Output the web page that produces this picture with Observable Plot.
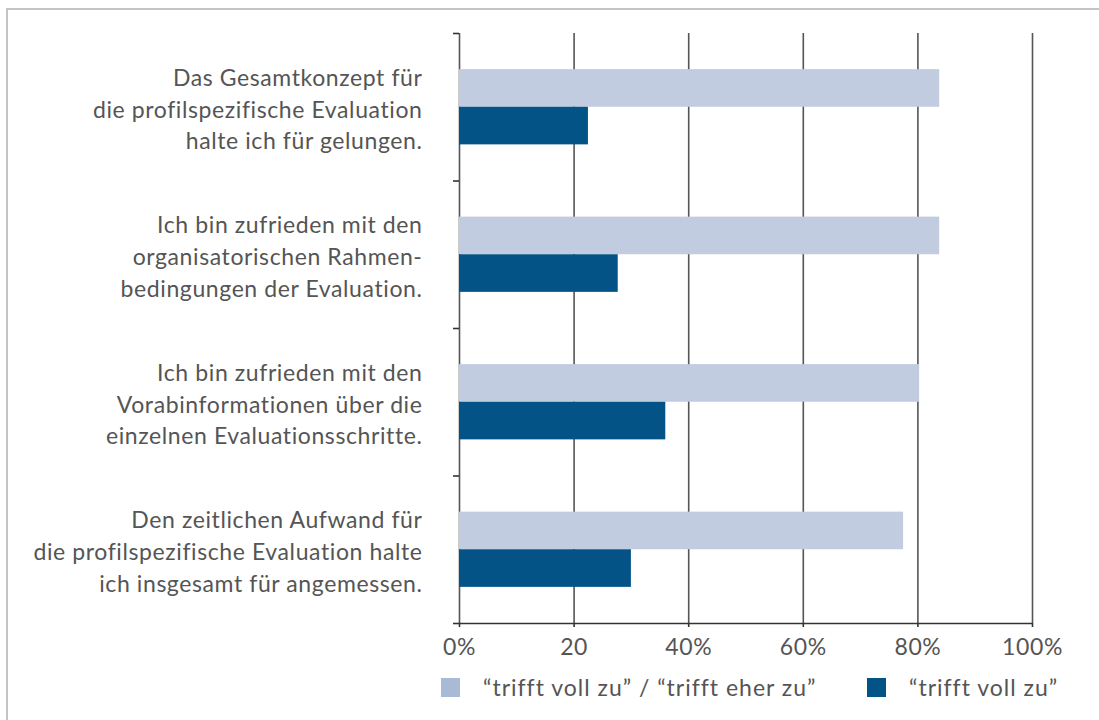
<!DOCTYPE html>
<html>
<head>
<meta charset="utf-8">
<script src="https://cdn.jsdelivr.net/npm/d3@7"></script>
<script src="https://cdn.jsdelivr.net/npm/@observablehq/plot@0.6"></script>
<style>
  html, body { margin: 0; padding: 0; background: #fff; overflow: hidden; width: 1099px; height: 720px; }
  #frame { position: absolute; left: 6px; top: 8px; width: 1200px; height: 800px; border: 2px solid #c4c4c4; box-sizing: border-box; }
  #chart { position: absolute; left: 0; top: 0; }
  #chart svg text { letter-spacing: 0.6px; }
  #legend { position: absolute; top: 674px; left: 0; width: 1099px; height: 30px; font-family: Lato, "Open Sans", sans-serif; font-size: 23px; letter-spacing: 1px; color: #555; }
  .item { position: absolute; display: flex; align-items: center; height: 26px; white-space: nowrap; }
  .sw { width: 19px; height: 19px; display: inline-block; flex: none; }
  .lab { display: inline-block; }
</style>
</head>
<body>
<div id="frame"></div>
<div id="chart"></div>
<div id="legend"></div>
<script>
const questions = [
  "Das Gesamtkonzept für\ndie profilspezifische Evaluation\nhalte ich für gelungen.",
  "Ich bin zufrieden mit den\norganisatorischen Rahmen-\nbedingungen der Evaluation.",
  "Ich bin zufrieden mit den\nVorabinformationen über die\neinzelnen Evaluationsschritte.",
  "Den zeitlichen Aufwand für\ndie profilspezifische Evaluation halte\nich insgesamt für angemessen."
];
const seriesNames = ["\u201Ctrifft voll zu\u201D / \u201Ctrifft eher zu\u201D", "\u201Ctrifft voll zu\u201D"];
const agreeValues = [83.8, 83.8, 80.3, 77.5];   // trifft voll zu / trifft eher zu
const fullValues  = [22.5, 27.7, 36.0, 30.0];   // trifft voll zu
const xTicks = [0, 20, 40, 60, 80, 100];
const xTickLabels = ["0%", "20", "40%", "60%", "80%", "100%"];
const colors = ["#c1cce0", "#045387"];
const legendColors = ["#a9bad6", "#045387"];

// bar bands within each question row (fractions of a row)
const bandTop = 0.245, bandMid = 0.5, bandBot = 0.755;

const rows = questions.map((q, i) => ({i, q, agree: agreeValues[i], full: fullValues[i]}));
const barsAgree = rows.map(r => ({y1: r.i + bandTop, y2: r.i + bandMid, v: r.agree}));
const barsFull = rows.map(r => ({y1: r.i + bandMid, y2: r.i + bandBot, v: r.full}));

const plot = Plot.plot({
  width: 1099,
  height: 660,
  marginLeft: 459,
  marginRight: 67,
  marginTop: 33,
  marginBottom: 37,
  style: {fontFamily: "Lato, 'Open Sans', sans-serif", color: "#555", background: "transparent"},
  x: {domain: [0, 100]},
  y: {domain: [0, 4], reverse: true},
  marks: [
    Plot.ruleX(xTicks, {x: d => d, y1: 0, y2: 4, stroke: "#555", strokeWidth: 1.6}),
    Plot.rectX(barsAgree, {x1: 0, x2: "v", y1: "y1", y2: "y2", fill: colors[0]}),
    Plot.rectX(barsFull, {x1: 0, x2: "v", y1: "y1", y2: "y2", fill: colors[1]}),
    Plot.ruleY([4], {stroke: "#333", strokeWidth: 1.6}),
    Plot.axisY({ticks: [0, 1, 2, 3, 4], tickSize: 6, tickFormat: () => "", stroke: "#333", strokeWidth: 1.6, label: null}),
    Plot.axisX({ticks: xTicks, tickFormat: (d, i) => xTickLabels[i], tickSize: 4, tickPadding: 11, fontSize: 23, fill: "#555", stroke: "#333", strokeWidth: 1.6, label: null}),
    Plot.text(rows, {y: d => d.i + 0.5, text: "q", frameAnchor: "left", dx: -37, textAnchor: "end", lineHeight: 32 / 23, fontSize: 23, fill: "#555"})
  ]
});
document.getElementById("chart").appendChild(plot);

const legend = document.getElementById("legend");
const legendX = [441, 867];
const textGap = [42, 42];
seriesNames.forEach((name, i) => {
  const item = document.createElement("div");
  item.className = "item";
  item.style.left = legendX[i] + "px";
  const sw = document.createElement("span");
  sw.className = "sw";
  sw.style.background = legendColors[i];
  const lab = document.createElement("span");
  lab.className = "lab";
  lab.style.marginLeft = (textGap[i] - 19) + "px";
  lab.textContent = name;
  item.appendChild(sw);
  item.appendChild(lab);
  legend.appendChild(item);
});
</script>
</body>
</html>
